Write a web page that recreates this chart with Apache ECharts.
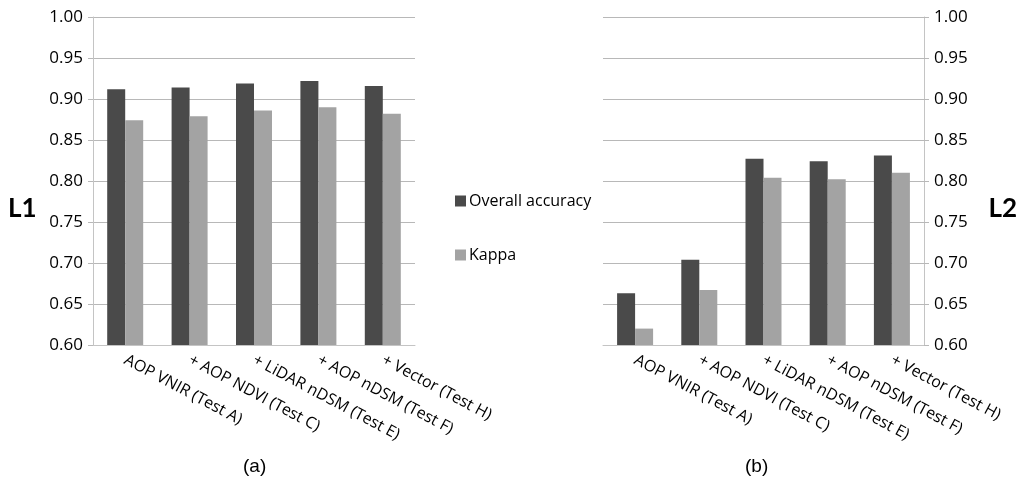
<!DOCTYPE html>
<html>
<head>
<meta charset="utf-8">
<script src="https://cdn.jsdelivr.net/npm/echarts@6/dist/echarts.min.js"></script>
<style>
  html, body { margin: 0; padding: 0; background: #fff; }
  #chart { width: 1019px; height: 482px; }
</style>
</head>
<body>
<div id="chart"></div>
<script>
// 类别与数值
const categories = ['AOP VNIR (Test A)', '+ AOP NDVI (Test C)', '+ LiDAR nDSM (Test E)', '+ AOP nDSM (Test F)', '+ Vector (Test H)'];
const l1Overall = [0.912, 0.914, 0.919, 0.922, 0.916];
const l1Kappa = [0.874, 0.879, 0.886, 0.890, 0.882];
const l2Overall = [0.663, 0.704, 0.827, 0.824, 0.831];
const l2Kappa = [0.620, 0.667, 0.804, 0.802, 0.810];

const darkColor = '#4a4a4a';
const lightColor = '#a3a3a3';
const font = '"Open Sans", sans-serif';

const chart = echarts.init(document.getElementById('chart'));

function xAxisOf(gridIndex) {
    return {
        type: 'category',
        gridIndex: gridIndex,
        data: categories,
        axisLine: { lineStyle: { color: '#c4c4c4' } },
        axisTick: { length: 6, lineStyle: { color: '#c4c4c4' } },
        axisLabel: {
            rotate: -28,
            interval: 0,
            color: '#000',
            fontSize: 16,
            fontFamily: font,
            margin: 14
        }
    };
}

function yAxisOf(gridIndex, position) {
    return {
        type: 'value',
        gridIndex: gridIndex,
        position: position,
        min: 0.6,
        max: 1.0,
        interval: 0.05,
        axisLine: { show: true, lineStyle: { color: '#c4c4c4' } },
        axisTick: { show: true, length: 5, lineStyle: { color: '#b8b8b8' } },
        splitLine: { lineStyle: { color: '#b8b8b8', width: 1 } },
        axisLabel: {
            formatter: v => v.toFixed(2),
            color: '#000',
            fontSize: 17,
            fontFamily: font,
            margin: 10
        }
    };
}

function barSeries(name, data, color, axisIndex) {
    return {
        name: name,
        type: 'bar',
        xAxisIndex: axisIndex,
        yAxisIndex: axisIndex,
        data: data,
        barWidth: 18,
        barGap: '0%',
        itemStyle: { color: color },
        emphasis: { disabled: true }
    };
}

const labelStyle = { fontSize: 26, fontWeight: 'bold', fontFamily: 'Lato, sans-serif', color: '#000' };

const option = {
    animation: false,
    grid: [
        { left: 93, right: 604, top: 17, bottom: 137 },
        { left: 603, right: 95, top: 17, bottom: 137 }
    ],
    xAxis: [xAxisOf(0), xAxisOf(1)],
    yAxis: [yAxisOf(0, 'left'), yAxisOf(1, 'right')],
    legend: {
        orient: 'vertical',
        left: 450,
        top: 188,
        itemGap: 38,
        itemWidth: 11,
        itemHeight: 11,
        icon: 'rect',
        textStyle: { fontSize: 16, fontFamily: font, color: '#000', padding: [0, 0, 0, -2] },
        data: ['Overall accuracy', 'Kappa']
    },
    title: [
        { text: 'L1', left: 8, top: 196, padding: 0, textStyle: labelStyle },
        { text: 'L2', right: 2, top: 196, padding: 0, textStyle: labelStyle },
        { text: '(a)', left: 238, top: 452, textStyle: { fontSize: 19, fontWeight: 'normal', fontFamily: 'Liberation Sans, Arial', color: '#000' } },
        { text: '(b)', left: 740, top: 452, textStyle: { fontSize: 19, fontWeight: 'normal', fontFamily: 'Liberation Sans, Arial', color: '#000' } }
    ],
    series: [
        barSeries('Overall accuracy', l1Overall, darkColor, 0),
        barSeries('Kappa', l1Kappa, lightColor, 0),
        barSeries('Overall accuracy', l2Overall, darkColor, 1),
        barSeries('Kappa', l2Kappa, lightColor, 1)
    ]
};

chart.setOption(option);
</script>
</body>
</html>
